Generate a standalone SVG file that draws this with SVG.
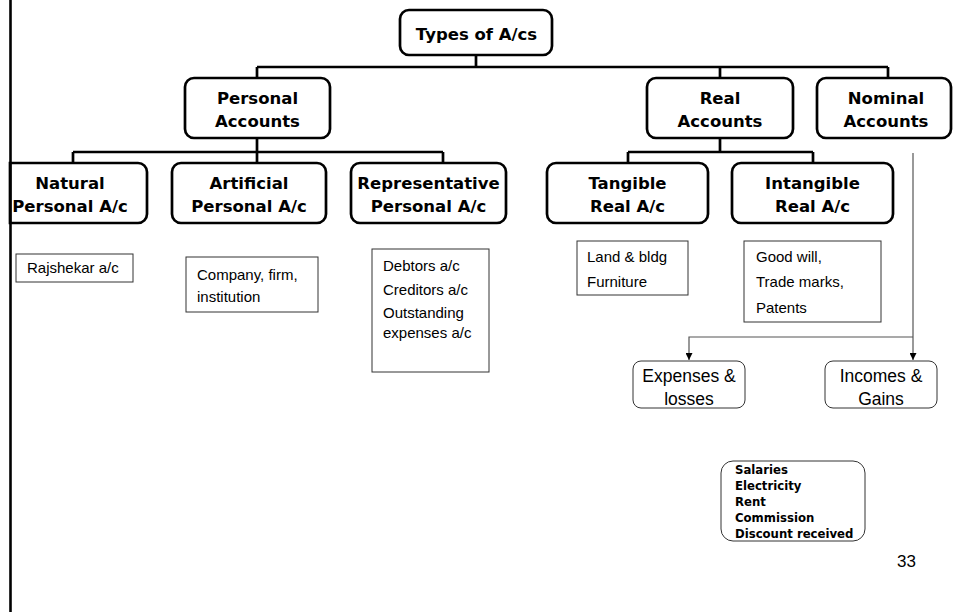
<svg xmlns="http://www.w3.org/2000/svg" width="953" height="612" viewBox="0 0 953 612">
<defs>
<style>
.nb{fill:#fff;stroke:#000;stroke-width:2.7}
.tb{fill:#fff;stroke:#333;stroke-width:1}
.rb{fill:#fff;stroke:#333;stroke-width:1}
.bt{font-family:"DejaVu Sans",Verdana,sans-serif;font-weight:bold;font-size:16.5px;fill:#000;text-anchor:middle}
.t{font-family:"Liberation Sans",Arial,sans-serif;font-size:15px;fill:#000}
.t2{font-family:"Liberation Sans",Arial,sans-serif;font-size:17.5px;fill:#000;text-anchor:middle}
.sb{font-family:"DejaVu Sans",Verdana,sans-serif;font-weight:bold;font-size:11.7px;fill:#000}
.c{fill:none;stroke:#000;stroke-width:2.7}
.a{fill:none;stroke:#555;stroke-width:1.2}
</style>
<marker id="ah" viewBox="0 0 10 10" refX="10" refY="5" markerWidth="7" markerHeight="7" markerUnits="userSpaceOnUse" orient="auto">
<path d="M0,0 L10,5 L0,10 z" fill="#000"/>
</marker>
</defs>
<rect width="953" height="612" fill="#fff"/>
<g id="connectors">
<path class="c" d="M476,55 V67 M257,67 H888 M257,67 V78 M720,67 V78 M888,67 V78"/>
<path class="c" d="M257,138 V152 M73,152 H443 M73,152 V163 M257,152 V163 M443,152 V163"/>
<path class="c" d="M720,138 V152 M628,152 H813 M628,152 V163 M813,152 V163"/>
<path class="a" d="M913,153 V360" marker-end="url(#ah)"/>
<path class="a" d="M913,337 H689 V360" marker-end="url(#ah)"/>
</g>
<g id="types"><rect class="nb" x="400" y="10" width="152" height="45" rx="9"/><text class="bt" x="476.5" y="40">Types of A/cs</text></g>
<g id="personal"><rect class="nb" x="185" y="78" width="145" height="60" rx="9"/><text class="bt" x="257.5" y="104">Personal</text><text class="bt" x="257.5" y="127">Accounts</text></g>
<g id="real"><rect class="nb" x="647" y="78" width="146" height="60" rx="9"/><text class="bt" x="720" y="104">Real</text><text class="bt" x="720" y="127">Accounts</text></g>
<g id="nominal"><rect class="nb" x="817" y="78" width="134" height="60" rx="9"/><text class="bt" x="886" y="104">Nominal</text><text class="bt" x="886" y="127">Accounts</text></g>
<g id="natural"><path class="nb" d="M10,163 H138 A9,9 0 0 1 147,172 V214 A9,9 0 0 1 138,223 H10 Z"/><text class="bt" x="70" y="189">Natural</text><text class="bt" x="70" y="212">Personal A/c</text></g>
<g id="artificial"><rect class="nb" x="172" y="163" width="154" height="60" rx="9"/><text class="bt" x="249" y="189">Artificial</text><text class="bt" x="249" y="212">Personal A/c</text></g>
<g id="representative"><rect class="nb" x="351" y="163" width="155" height="60" rx="9"/><text class="bt" x="428.5" y="189">Representative</text><text class="bt" x="428.5" y="212">Personal A/c</text></g>
<g id="tangible"><rect class="nb" x="547" y="163" width="161" height="60" rx="9"/><text class="bt" x="627.5" y="189">Tangible</text><text class="bt" x="627.5" y="212">Real A/c</text></g>
<g id="intangible"><rect class="nb" x="732" y="163" width="161" height="60" rx="9"/><text class="bt" x="812.5" y="189">Intangible</text><text class="bt" x="812.5" y="212">Real A/c</text></g>
<g id="rajshekar"><rect class="tb" x="16" y="254" width="117" height="28"/><text class="t" x="27" y="273">Rajshekar a/c</text></g>
<g id="company"><rect class="tb" x="186" y="257" width="132" height="55"/><text class="t" x="197" y="280">Company, firm,</text><text class="t" x="197" y="302">institution</text></g>
<g id="debtors"><rect class="tb" x="372" y="249" width="117" height="123"/><text class="t" x="383" y="271">Debtors a/c</text><text class="t" x="383" y="295">Creditors a/c</text><text class="t" x="383" y="318">Outstanding</text><text class="t" x="383" y="338">expenses a/c</text></g>
<g id="land"><rect class="tb" x="577" y="241" width="111" height="54"/><text class="t" x="587" y="262">Land &amp; bldg</text><text class="t" x="587" y="287">Furniture</text></g>
<g id="goodwill"><rect class="tb" x="744" y="241" width="137" height="81"/><text class="t" x="756" y="262">Good will,</text><text class="t" x="756" y="287">Trade marks,</text><text class="t" x="756" y="313">Patents</text></g>
<g id="expenses"><rect class="rb" x="633" y="361" width="112" height="47" rx="8"/><text class="t2" x="689" y="382">Expenses &amp;</text><text class="t2" x="689" y="405">losses</text></g>
<g id="incomes"><rect class="rb" x="825" y="361" width="112" height="47" rx="8"/><text class="t2" x="881" y="382">Incomes &amp;</text><text class="t2" x="881" y="405">Gains</text></g>
<g id="examples"><rect class="rb" x="721" y="461" width="144" height="80" rx="12"/><text class="sb" x="735" y="474">Salaries</text><text class="sb" x="735" y="490">Electricity</text><text class="sb" x="735" y="506">Rent</text><text class="sb" x="735" y="522">Commission</text><text class="sb" x="735" y="538">Discount received</text></g>
<text x="897" y="567" style="font-family:'Liberation Sans',Arial,sans-serif;font-size:17px;fill:#000">33</text>
<line x1="10.5" y1="0" x2="10.5" y2="612" stroke="#000" stroke-width="2.6"/>
</svg>
